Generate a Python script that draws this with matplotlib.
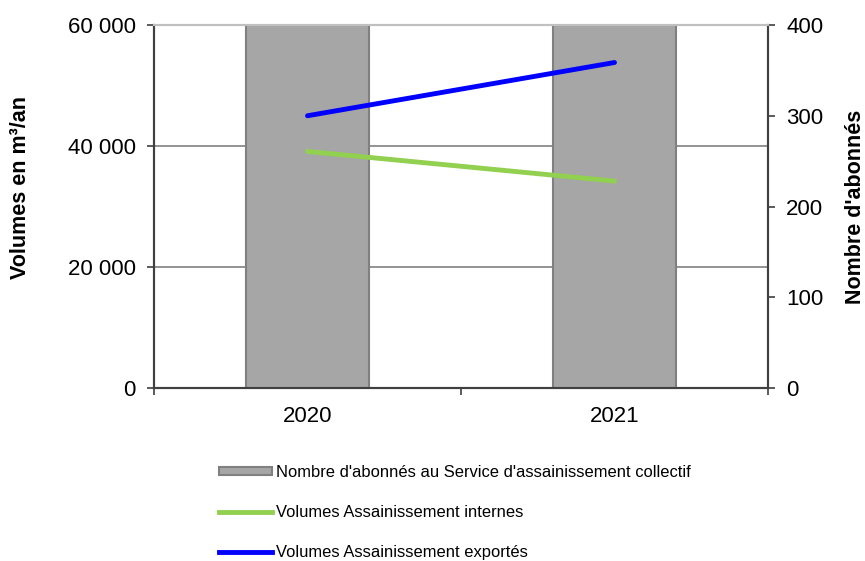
import matplotlib
matplotlib.use("Agg")
import matplotlib.pyplot as plt
from matplotlib.ticker import FuncFormatter, FixedLocator
from matplotlib.patches import Patch
from matplotlib.lines import Line2D

plt.rcParams['font.family'] = ['Liberation Sans', 'DejaVu Sans']

years = ["2020", "2021"]
abonnes = [430, 440]          # clipped above the 400 limit in the reference
vol_internes = [39100, 34200]
vol_exportes = [45000, 53800]

label_bar = "Nombre d'abonnés au Service d'assainissement collectif"
label_int = "Volumes Assainissement internes"
label_exp = "Volumes Assainissement exportés"

fig = plt.figure(figsize=(8.65, 5.61), dpi=100)
ax = fig.add_axes([154/865, 1-388/561, (768-154)/865, (388-25)/561])
ax2 = ax.twinx()
ax3 = ax.twinx()

x = list(range(len(years)))

# grid on base axes
ax.set_ylim(0, 60000)
ax.set_xlim(-0.5, len(years) - 0.5)
ax.yaxis.set_major_locator(FixedLocator([0, 20000, 40000, 60000]))
ax.yaxis.set_major_formatter(FuncFormatter(lambda v, p: f"{int(v):,}".replace(",", " ")))
ax.grid(axis='y', color='#808080', linewidth=1.2)
ax.set_axisbelow(True)

# bars on right axis
ax2.bar(x, abonnes, width=0.4, color='#A6A6A6', edgecolor='#808080', linewidth=1.5)
ax2.set_ylim(0, 400)
ax2.yaxis.set_major_locator(FixedLocator([0, 100, 200, 300, 400]))
ax2.patch.set_visible(False)

# lines on top
ax3.plot(x, vol_internes, color='#92D050', linewidth=3.5, solid_capstyle='round')
ax3.plot(x, vol_exportes, color='#0000FF', linewidth=3.5, solid_capstyle='round')
ax3.set_ylim(0, 60000)
ax3.set_yticks([])
ax3.patch.set_visible(False)
for s in ax3.spines.values():
    s.set_visible(False)

# x ticks
ax.xaxis.set_major_locator(FixedLocator([-0.5, 0.5, 1.5]))
ax.xaxis.set_major_formatter(FuncFormatter(lambda v, p: ""))
ax.xaxis.set_minor_locator(FixedLocator(x))
ax.set_xticklabels(years, minor=True)
ax.tick_params(axis='x', which='major', length=5, width=1.2, color='#404040', direction='out')
ax.tick_params(axis='x', which='minor', length=0, pad=13, labelsize=16)
ax.tick_params(axis='y', length=5, width=1.2, color='#404040', labelsize=16, pad=8)
ax2.tick_params(axis='y', length=5, width=1.2, color='#404040', labelsize=16, pad=8)

for a in (ax, ax2):
    for side in ('left', 'right', 'bottom'):
        a.spines[side].set_color('#404040')
        a.spines[side].set_linewidth(1.5)
    a.spines['top'].set_color('#C0C0C0')
    a.spines['top'].set_linewidth(1.5)

ax.set_ylabel("Volumes en m³/an", fontsize=15.5, fontweight='bold')
ax.yaxis.set_label_coords(-0.201, 0.551)
ax2.set_ylabel("Nombre d'abonnés", fontsize=15.5, fontweight='bold', rotation=90)
ax2.yaxis.set_label_coords(1.126, 0.5)

handles = [
    Patch(facecolor='#A6A6A6', edgecolor='#808080', linewidth=1.5, label=label_bar),
    Line2D([0], [0], color='#92D050', linewidth=3.5, label=label_int),
    Line2D([0], [0], color='#0000FF', linewidth=3.5, label=label_exp),
]
fig.legend(handles=handles, loc='upper left', bbox_to_anchor=(212/865, 1-458/561),
           frameon=False, fontsize=11.9, handlelength=3.25, handleheight=0.35,
           handletextpad=0.25, labelspacing=1.53, borderaxespad=0)

fig.savefig("out.png", dpi=100)
